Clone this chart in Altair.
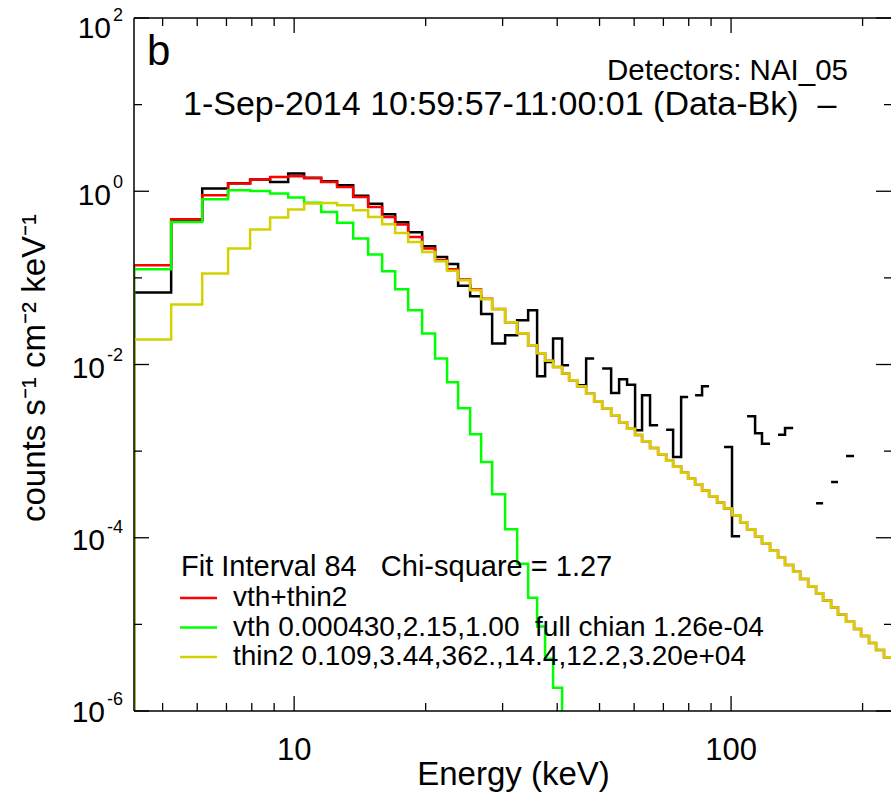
import altair as alt
import pandas as pd

# ---------------- data ----------------
energy_edges = [4.30, 5.23, 6.16, 7.06, 7.93, 8.81, 9.69, 10.54, 11.53, 12.54,
                13.65, 14.77, 15.90, 17.03, 18.24, 19.63, 21.02, 22.39, 23.73, 25.28,
                26.79, 28.39, 30.40, 32.39, 34.32, 35.98, 37.53, 39.14, 41.05, 42.59,
                44.43, 46.59, 48.60, 50.69, 53.15, 55.43, 57.81, 60.30, 62.56, 65.25,
                68.08, 71.02, 73.68, 76.86, 79.74, 82.73, 85.83, 89.06, 92.90, 96.38,
                100.5, 104.9, 108.8, 113.5, 117.7, 122.8, 128.1, 132.9, 138.7, 143.9,
                150.1, 156.5, 162.4, 169.4, 175.7, 183.3, 191.2, 198.4, 206.9, 214.7,
                223.9, 232.3]

data_minus_bk = [0.0676, 0.4625, 1.075, 1.24, 1.37, 1.28, 1.601, 1.432, 1.305, 1.173,
                 0.89, 0.717, 0.543, 0.4385, 0.336, 0.2317, 0.1743, 0.1443, 0.0811, 0.0613,
                 0.0383, 0.01743, 0.02174, 0.0324, 0.0423, 0.00731, 0.01069, 0.0199, 0.00979, None,
                 0.00575, 0.0117, None, 0.00897, 0.00469, 0.00675, 0.00583, 0.00174, 0.00441, 0.00199,
                 None, 0.00177, 0.000855, 0.00421, None, 0.00441, 0.0056, None, None, 0.001115,
                 0.0001038, None, 0.00252, 0.001605, 0.00122, None, 0.00155, 0.00185, None, None,
                 None, 0.00025, None, 0.00044, None, 0.000878, None, None, None, None,
                 None]

fit_total = [0.1398, 0.475, 0.899, 1.227, 1.365, 1.463, 1.490, 1.413, 1.280, 1.121,
             0.859, 0.659, 0.505, 0.4125, 0.2967, 0.218, 0.1597, 0.126, 0.096, 0.0735,
             0.0575, 0.0437, 0.0308, 0.0230, 0.01668, 0.01347, 0.01105, 0.00937, 0.00785, 0.00657,
             0.00560, 0.00459, 0.00376, 0.00312, 0.00259, 0.00215, 0.00181, 0.00154, 0.00130, 0.00109,
             0.000918, 0.000773, 0.000659, 0.000561, 0.000479, 0.000414, 0.000352, 0.000301, 0.000256, 0.000218,
             0.000182, 0.000151, 0.000125, 0.000104, 8.65e-5, 7.08e-5, 5.88e-5, 4.86e-5, 4.04e-5, 3.35e-5,
             2.75e-5, 2.28e-5, 1.89e-5, 1.57e-5, 1.30e-5, 1.07e-5, 8.85e-6, 7.33e-6, 6.08e-6, 5.05e-6,
             4.18e-6]

fit_vth = [0.1257, 0.442, 0.808, 1.027, 1.008, 0.941, 0.846, 0.737, 0.577, 0.433,
           0.284, 0.186, 0.119, 0.0738, 0.0423, 0.0228, 0.0117, 0.00623, 0.00312, 0.00157,
           0.000748, 0.000317, 0.000125, 5.02e-5, 2.03e-5, 9.48e-6, 4.02e-6, 1.86e-6, 7e-7]

fit_thin2 = [0.0195, 0.0492, 0.112, 0.218, 0.361, 0.497, 0.615, 0.721, 0.733, 0.689,
             0.604, 0.505, 0.416, 0.330, 0.260, 0.199, 0.1555, 0.1208, 0.0938, 0.0719,
             0.0566, 0.0434, 0.0307, 0.0229, 0.01666, 0.01346, 0.01104, 0.00936, 0.00785, 0.00657,
             0.00560, 0.00459, 0.00376, 0.00312, 0.00259, 0.00215, 0.00181, 0.00154, 0.00130, 0.00109,
             0.000918, 0.000773, 0.000659, 0.000561, 0.000479, 0.000414, 0.000352, 0.000301, 0.000256, 0.000218,
             0.000182, 0.000151, 0.000125, 0.000104, 8.65e-5, 7.08e-5, 5.88e-5, 4.86e-5, 4.04e-5, 3.35e-5,
             2.75e-5, 2.28e-5, 1.89e-5, 1.57e-5, 1.30e-5, 1.07e-5, 8.85e-6, 7.33e-6, 6.08e-6, 5.05e-6,
             4.18e-6]

legend_title = "Fit Interval 84\u00a0\u00a0\u00a0Chi-square = 1.27"
legend_labels = ["vth+thin2",
                 "vth 0.000430,2.15,1.00\u00a0\u00a0full chian 1.26e-04",
                 "thin2 0.109,3.44,362.,14.4,12.2,3.20e+04"]
series_colors = ["#000000", "#ff0000", "#00ff00", "#d2d200"]

x_major_ticks = [10, 100]
x_minor_ticks = [5, 6, 7, 8, 9, 20, 30, 40, 50, 60, 70, 80, 90, 200]
x_tick_labels = ["10", "100"]
y_major_ticks = [1e-6, 1e-4, 1e-2, 1, 1e2]
y_minor_ticks = [1e-5, 1e-3, 1e-1, 10]
y_tick_exponents = ["-6", "-4", "-2", "0", "2"]

# ---------------- layout / style ----------------
W, H = 757, 693
FONT = "Liberation Sans"
FLOOR = 1e-9  # below the axis: gives the leading vertical edge of each histogram
LW = 2.5
LABEL_DY = [0, 1, 2, 3, 9]  # vertical nudges of the y tick labels (pixels)


def xs():
    return alt.Scale(type="log", domain=[4.3, 232.3], nice=False)


def ys():
    return alt.Scale(type="log", domain=[1e-6, 100], nice=False)


def step_rows(values):
    rows, seg, order, open_seg, first = [], 0, 0, False, True
    for i, v in enumerate(values):
        if i + 1 >= len(energy_edges):
            break
        if v is None:
            if open_seg:
                seg += 1
                open_seg = False
            continue
        if first:
            rows.append({"E": energy_edges[i], "v": FLOOR, "seg": seg, "o": order})
            order += 1
            first = False
        for e in (energy_edges[i], energy_edges[i + 1]):
            rows.append({"E": e, "v": v, "seg": seg, "o": order})
            order += 1
        open_seg = True
    return pd.DataFrame(rows)


def hist_layer(values, color):
    return alt.Chart(step_rows(values)).mark_line(
        color=color, strokeWidth=LW, clip=True, strokeJoin="miter", strokeCap="butt"
    ).encode(
        x=alt.X("E:Q", scale=xs(), axis=None),
        y=alt.Y("v:Q", scale=ys(), axis=None),
        detail="seg:N",
        order="o:Q",
    )


layers = [
    hist_layer(data_minus_bk, series_colors[0]),
    hist_layer(fit_total, series_colors[1]),
    hist_layer(fit_vth, series_colors[2]),
    hist_layer(fit_thin2, series_colors[3]),
]

one = pd.DataFrame({"a": [0]})

# frame (left, bottom, top)
frame = [
    alt.Chart(one).mark_rule(color="black", strokeWidth=1.5).encode(
        x=alt.value(0), y=alt.value(0), y2=alt.value(H)),
    alt.Chart(one).mark_rule(color="black", strokeWidth=1.5).encode(
        x=alt.value(0), x2=alt.value(W), y=alt.value(H)),
    alt.Chart(one).mark_rule(color="black", strokeWidth=1.5).encode(
        x=alt.value(0), x2=alt.value(W), y=alt.value(0)),
]


def xtick(ticks, y0, y1):
    return alt.Chart(pd.DataFrame({"t": ticks})).mark_rule(color="black", strokeWidth=1.3).encode(
        x=alt.X("t:Q", scale=xs(), axis=None), y=alt.value(y0), y2=alt.value(y1))


def ytick(ticks, x0, x1):
    return alt.Chart(pd.DataFrame({"t": ticks})).mark_rule(color="black", strokeWidth=1.3).encode(
        y=alt.Y("t:Q", scale=ys(), axis=None), x=alt.value(x0), x2=alt.value(x1))


ticks = [
    xtick(x_major_ticks, H, H - 15), xtick(x_minor_ticks, H, H - 8),
    xtick(x_major_ticks, 0, 15), xtick(x_minor_ticks, 0, 8),
    ytick(y_major_ticks, 0, 15), ytick(y_minor_ticks, 0, 8),
    ytick(y_major_ticks, W - 15, W), ytick(y_minor_ticks, W - 7, W),
]

# x tick labels
xlab_df = pd.DataFrame({"t": x_major_ticks, "lab": x_tick_labels})
xlabels = alt.Chart(xlab_df).mark_text(font=FONT, fontSize=31, align="center", baseline="alphabetic").encode(
    x=alt.X("t:Q", scale=xs(), axis=None), y=alt.value(H + 49), text="lab:N")

# y tick labels: "10" with a raised exponent
ylabels = []
for t, ex, dy in zip(y_major_ticks, y_tick_exponents, LABEL_DY):
    df = pd.DataFrame({"t": [t], "ex": [ex]})
    xpos = -29 if ex.startswith("-") else -23
    ylabels.append(alt.Chart(df).mark_text(text="10", font=FONT, fontSize=30, align="right",
                                           baseline="middle", dy=2 + dy).encode(
        y=alt.Y("t:Q", scale=ys(), axis=None), x=alt.value(xpos)))
    ylabels.append(alt.Chart(df).mark_text(font=FONT, fontSize=18, align="right",
                                           baseline="middle", dy=-11 + dy).encode(
        y=alt.Y("t:Q", scale=ys(), axis=None), x=alt.value(-11), text="ex:N"))

# axis titles
xtitle = alt.Chart(one).mark_text(text="Energy (keV)", font=FONT, fontSize=33, align="center",
                                  baseline="alphabetic").encode(x=alt.value(W / 2 + 1), y=alt.value(H + 74))
ytitle = alt.Chart(one).mark_text(text="counts s\u207b\u00b9 cm\u207b\u00b2 keV\u207b\u00b9", font=FONT,
                                  fontSize=33, align="center", baseline="middle", angle=270).encode(
    x=alt.value(-99), y=alt.value(350))

# annotations
annots = [
    alt.Chart(one).mark_text(text="b", font=FONT, fontSize=42, align="left", baseline="alphabetic").encode(
        x=alt.value(13), y=alt.value(47)),
    alt.Chart(one).mark_text(text="Detectors: NAI_05", font=FONT, fontSize=29.5, align="right",
                             baseline="alphabetic").encode(x=alt.value(714), y=alt.value(62)),
    alt.Chart(one).mark_text(text="1-Sep-2014 10:59:57-11:00:01 (Data-Bk)\u00a0\u00a0\u2013", font=FONT,
                             fontSize=34, align="left", baseline="alphabetic").encode(
        x=alt.value(49), y=alt.value(97)),
]

# legend (drawn by hand, IDL style)
leg = [alt.Chart(one).mark_text(text=legend_title, font=FONT, fontSize=29, align="left",
                                baseline="alphabetic").encode(x=alt.value(47), y=alt.value(558))]
for k, (lab, col) in enumerate(zip(legend_labels, series_colors[1:])):
    yb = 588 + 29.5 * k
    leg.append(alt.Chart(one).mark_rule(color=col, strokeWidth=LW).encode(
        x=alt.value(46), x2=alt.value(83), y=alt.value(yb - 8)))
    leg.append(alt.Chart(one).mark_text(text=lab, font=FONT, fontSize=28, align="left",
                                        baseline="alphabetic").encode(x=alt.value(99), y=alt.value(yb)))

chart = alt.layer(*layers, *frame, *ticks, xlabels, *ylabels, xtitle, ytitle, *annots, *leg).properties(
    width=W, height=H,
    padding={"left": 134, "top": 18, "right": 0, "bottom": 84},
    autosize=alt.AutoSizeParams(type="none"),
).configure_view(stroke="transparent")

chart.save("out.html", embed_options={"renderer": "svg", "actions": False})
